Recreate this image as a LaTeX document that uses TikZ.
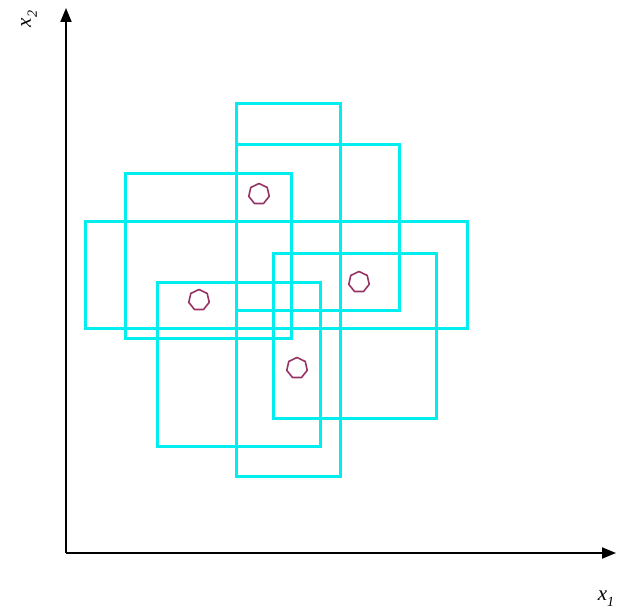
\documentclass[tikz,border=0pt]{standalone}
\usepackage{fontspec}
\setmainfont{Liberation Serif}
\usetikzlibrary{arrows.meta,shapes.geometric}
\definecolor{boxcyan}{RGB}{0,238,238}
\definecolor{mark}{RGB}{150,50,100}
\begin{document}
\begin{tikzpicture}[x=1pt,y=-1pt,
  boxline/.style={draw=boxcyan,line width=3pt},
  marker/.style={draw=mark,line width=1.6pt,line join=round,regular polygon,regular polygon sides=7,minimum size=21pt,inner sep=0pt},
  axisline/.style={line width=2pt,-{Triangle[length=14pt,width=11pt]}},
  axislabel/.style={font=\fontsize{21}{24}\selectfont\itshape,inner sep=0pt}]
\useasboundingbox (0,0) rectangle (623,612);
\coordinate (O) at (66,553);
\coordinate (Xend) at (616,553);
\coordinate (Yend) at (66,8);
\draw[axisline] (O) -- (Xend);
\draw[axisline] (O) -- (Yend);
\node[axislabel] (lx1) at (606,599) {x\raisebox{-6pt}{\fontsize{14}{16}\selectfont 1}};
\node[axislabel,rotate=90] (lx2) at (29,19) {x\raisebox{-6pt}{\fontsize{14}{16}\selectfont 2}};
\draw[boxline] (236,104) rectangle (340,476);
\draw[boxline] (85,222) rectangle (467,328);
\draw[boxline] (236,145) rectangle (399,310);
\draw[boxline] (125,174) rectangle (291,338);
\draw[boxline] (273,253) rectangle (436,418);
\draw[boxline] (157,282) rectangle (320,446);
\node[marker] (m1) at (259,194) {};
\node[marker] (m2) at (199,300) {};
\node[marker] (m3) at (359,282) {};
\node[marker] (m4) at (297,368) {};
\end{tikzpicture}
\end{document}
